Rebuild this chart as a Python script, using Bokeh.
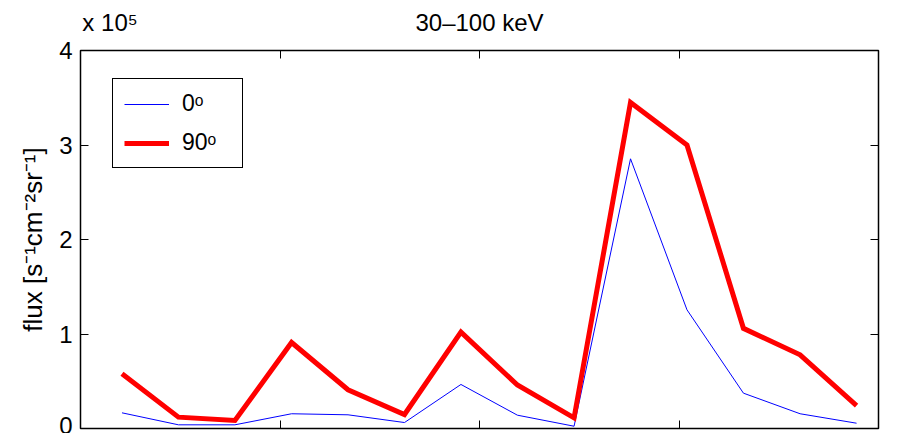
from bokeh.plotting import figure
from bokeh.models import (Range1d, LinearAxis, FixedTicker, Legend, LegendItem,
                          ColumnDataSource, CustomJSTickFormatter)
from bokeh.embed import file_html
from bokeh.resources import INLINE

# ---- data ----
x_pos = [0.208, 0.491, 0.774, 1.058, 1.341, 1.624, 1.907, 2.190, 2.474, 2.757, 3.040, 3.323, 3.607, 3.890]
flux_0 = [16600, 3900, 3900, 15600, 14500, 6300, 46600, 14100, 2400, 285400, 125600, 37400, 15600, 5600]
flux_90 = [58000, 12000, 8500, 91000, 41000, 14800, 102000, 46000, 11300, 345000, 300000, 106000, 78000, 24300]
y_ticks = [0, 100000, 200000, 300000, 400000]
x_ticks = [1, 2, 3]
title_text = "30–100 keV"
y_label = "flux [s⁻¹cm⁻²sr⁻¹]"
series_labels = ["0ᵒ", "90ᵒ"]
exp_text = "x 10⁵"

FONT = "Liberation Sans"

src = ColumnDataSource(dict(x=x_pos, f0=flux_0, f90=flux_90))

p = figure(width=916, height=433, output_backend="svg", toolbar_location=None,
           x_range=Range1d(0, 4), y_range=Range1d(0, 400000),
           min_border_left=80, min_border_right=38, min_border_top=50, min_border_bottom=5)
p.background_fill_color = "white"
p.border_fill_color = "white"
p.outline_line_color = "black"
p.outline_line_width = 1.5
p.grid.visible = False
p.title.visible = False

fmt = CustomJSTickFormatter(code="return (tick/1e5).toFixed(0);")

# left axis
ya = p.yaxis[0]
ya.ticker = FixedTicker(ticks=y_ticks)
ya.formatter = fmt
ya.major_tick_in = 8
ya.major_tick_out = 0
ya.minor_tick_in = 0
ya.minor_tick_out = 0
ya.axis_line_color = None
ya.major_label_standoff = 8
ya.major_label_text_font = FONT
ya.major_label_text_font_size = "24px"
ya.major_label_text_color = "black"
ya.axis_label = y_label
ya.axis_label_text_font = FONT
ya.axis_label_text_font_size = "26px"
ya.axis_label_text_font_style = "normal"
ya.axis_label_text_color = "black"
ya.axis_label_standoff = 8

# bottom axis (labels cut off in the reference)
xa = p.xaxis[0]
xa.ticker = FixedTicker(ticks=x_ticks)
xa.major_label_overrides = {t: "" for t in x_ticks}
xa.major_tick_in = 8
xa.major_tick_out = 0
xa.minor_tick_in = 0
xa.minor_tick_out = 0
xa.axis_line_color = None
xa.major_label_standoff = 0
xa.major_label_text_font_size = "1px"

# mirrored axes (box style)
ra = LinearAxis(ticker=FixedTicker(ticks=y_ticks), major_label_overrides={t: "" for t in y_ticks},
                major_tick_in=8, major_tick_out=0, minor_tick_in=0, minor_tick_out=0,
                axis_line_color=None, major_label_standoff=0, major_label_text_font_size="1px")
p.add_layout(ra, "right")
ta = LinearAxis(ticker=FixedTicker(ticks=x_ticks), major_label_overrides={t: "" for t in x_ticks},
                major_tick_in=8, major_tick_out=0, minor_tick_in=0, minor_tick_out=0,
                axis_line_color=None, major_label_standoff=0, major_label_text_font_size="1px")
p.add_layout(ta, "above")

# header row: exponent marker (left) and title (centred) share one line above the box
EXP_AT = 0.148
TITLE_AT = 2
header = LinearAxis(ticker=FixedTicker(ticks=[EXP_AT, TITLE_AT]),
                    major_label_overrides={EXP_AT: exp_text, TITLE_AT: title_text},
                    major_tick_in=0, major_tick_out=0, minor_tick_in=0, minor_tick_out=0,
                    axis_line_color=None, major_label_standoff=15,
                    major_label_text_font=FONT, major_label_text_font_size="24px",
                    major_label_text_color="black")
p.add_layout(header, "above")

# lines
r0 = p.line("x", "f0", source=src, line_color="#0000ff", line_width=1, line_join="miter")
r1 = p.line("x", "f90", source=src, line_color="#ff0000", line_width=5, line_join="miter")

legend = Legend(items=[LegendItem(label=series_labels[0], renderers=[r0]),
                       LegendItem(label=series_labels[1], renderers=[r1])],
                location=(32, 260), padding=11, spacing=12,
                glyph_width=45, glyph_height=26, label_height=26, label_width=49,
                label_standoff=13, border_line_color="black", border_line_width=1.5,
                border_line_alpha=1.0,
                background_fill_color="white", background_fill_alpha=1,
                label_text_font=FONT, label_text_font_size="23px", label_text_color="black",
                margin=0)
p.add_layout(legend)

open("out.html", "w").write(file_html(p, INLINE))
